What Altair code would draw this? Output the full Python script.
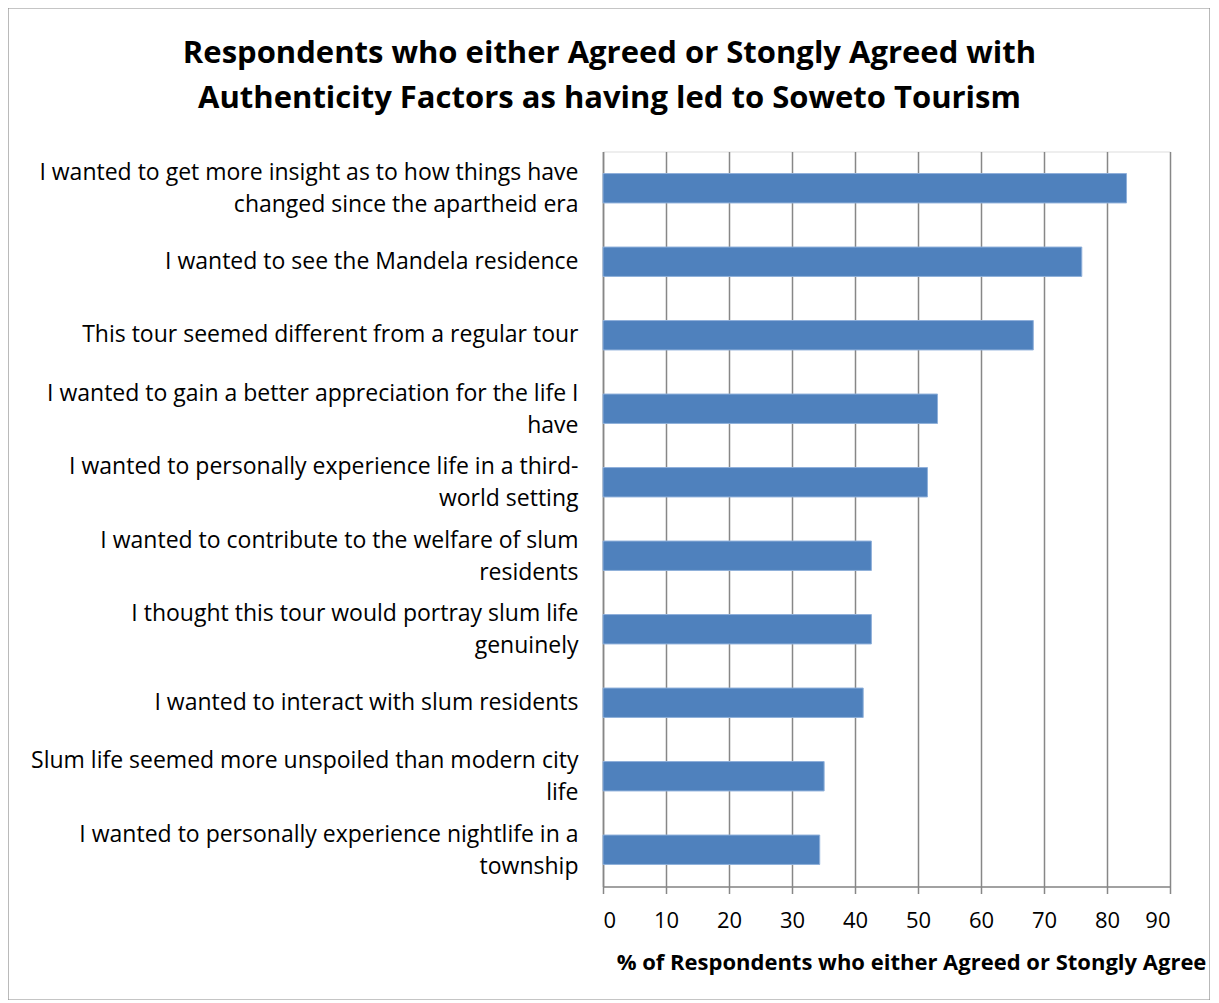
import altair as alt
import pandas as pd

categories = [
    "I wanted to get more insight as to how things have|changed since the apartheid era",
    "I wanted to see the Mandela residence",
    "This tour seemed different from a regular tour",
    "I wanted to gain a better appreciation for the life I|have",
    "I wanted to personally experience life in a third-|world setting",
    "I wanted to contribute to the welfare of slum|residents",
    "I thought this tour would portray slum life|genuinely",
    "I wanted to interact with slum residents",
    "Slum life seemed more unspoiled than modern city|life",
    "I wanted to personally experience nightlife in a|township",
]
values = [83.1, 76.0, 68.3, 53.1, 51.5, 42.6, 42.6, 41.3, 35.1, 34.4]
x_ticks = [0, 10, 20, 30, 40, 50, 60, 70, 80, 90]

title_lines = [
    "Respondents who either Agreed or Stongly Agreed with",
    "Authenticity Factors as having led to Soweto Tourism",
]
x_title = "% of Respondents who either Agreed or Stongly Agree"

df = pd.DataFrame({"factor": categories, "pct": values})

FONT = "Open Sans"
W, H = 567, 735

bars = alt.Chart(df).mark_bar(
    color="#4F81BD", stroke="#8FB0DA", strokeWidth=1
).encode(
    x=alt.X(
        "pct:Q",
        scale=alt.Scale(domain=[0, 90], nice=False),
        axis=alt.Axis(
            values=x_ticks,
            title=x_title,
            titleFont=FONT,
            titleFontSize=22,
            titleFontWeight="bold",
            titleColor="#000000",
            titleAnchor="start",
            titleAlign="center",
            titleX=308,
            titleY=76,
            titleBaseline="middle",
            labelFont=FONT,
            labelFontSize=22,
            labelColor="#000000",
            labelPadding=17,
            tickSize=7,
            tickColor="#878787",
            tickWidth=1.5,
            domainColor="#878787",
            domainWidth=1.5,
            grid=True,
            gridColor="#878787",
            gridWidth=1.5,
        ),
    ),
    y=alt.Y(
        "factor:N",
        sort=categories,
        scale=alt.Scale(paddingInner=0.6, paddingOuter=0.3),
        axis=alt.Axis(
            title=None,
            labelExpr="split(datum.label, '|')",
            labelFont=FONT,
            labelFontSize=23,
            labelColor="#000000",
            labelLineHeight=32,
            labelPadding=25,
            labelLimit=0,
            labelOffset={
                "condition": {"test": "indexof(datum.value, '|') >= 0", "value": -15},
                "value": 0,
            },
            ticks=False,
            domainColor="#878787",
            domainWidth=1.5,
            grid=False,
        ),
    ),
)

border = alt.Chart(alt.Data(values=[{"a": 1}])).mark_rect(
    fill=None, stroke="#8C8C8C", strokeWidth=1.2
).encode(
    x=alt.value(-595),
    x2=alt.value(607),
    y=alt.value(-143.5),
    y2=alt.value(848.5),
)

chart = alt.layer(border, bars).properties(
    width=W,
    height=H,
    title=alt.TitleParams(
        text=title_lines,
        font=FONT,
        fontSize=31,
        fontWeight="bold",
        color="#000000",
        anchor="middle",
        baseline="bottom",
        dx=-277,
        offset=-139,
        lineHeight=45,
    ),
    autosize=alt.AutoSizeParams(type="none"),
    padding={"left": 595, "top": 143.5, "right": 40, "bottom": 113.5},
).configure_view(stroke=None).configure(background="#FFFFFF")

chart.save("out.html", embed_options={"renderer": "svg", "actions": False})
